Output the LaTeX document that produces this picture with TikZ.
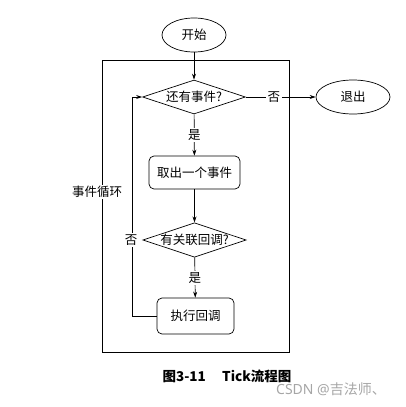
\documentclass[tikz,border=0pt]{standalone}
\usepackage{fontspec}
\newfontfamily\cjk{Noto Sans CJK SC}
\usetikzlibrary{shapes.geometric,arrows.meta}
\begin{document}
\begin{tikzpicture}[x=1pt,y=-1pt,
  every node/.style={font=\cjk\fontsize{12.5}{14}\selectfont, inner sep=0pt},
  ell/.style={draw, ellipse, minimum width=64pt, minimum height=34pt, line width=0.7pt},
  dia/.style={draw, diamond, aspect=3, minimum width=103pt, minimum height=34pt, line width=0.7pt},
  box/.style={draw, rounded corners=5pt, line width=0.7pt},
  lbl/.style={fill=white, inner sep=1.5pt},
  conn/.style={line width=0.7pt, -{Stealth[length=6pt,width=4pt]}},
  line/.style={line width=0.7pt}]
\useasboundingbox (0,0) rectangle (406,407);
\draw[line] (102,60) rectangle (289,352);
\node[ell] (start) at (194,35) {开始};
\node[dia] (d1) at (194,97) {还有事件?};
\node[ell, minimum width=74pt] (exit) at (353,97) {退出};
\node[box, minimum width=91pt, minimum height=33pt] (take) at (194.5,172.5) {取出一个事件};
\node[dia] (d2) at (194.5,240) {有关联回调?};
\node[box, minimum width=77pt, minimum height=36pt] (run) at (195.5,316) {执行回调};
\coordinate (c1) at (132,316);
\coordinate (c2) at (132,97);
\draw[conn] (start) -- (d1);
\draw[conn] (d1) -- node[lbl, pos=0.4] {否} (exit);
\draw[conn] (d1) -- node[lbl, pos=0.5] {是} (take);
\draw[conn] (take) -- (d2);
\draw[conn] (d2) -- node[lbl, pos=0.5] {是} (run);
\draw[conn] (run.west) -- (c1) -- (c2) -- (d1.west);
\node[lbl] (no2) at (131,240) {否};
\node[lbl] (loop) at (97,192) {事件循环};
\node[font=\cjk\bfseries\fontsize{13.5}{15}\selectfont] (cap) at (227,376) {图3-11\hspace{1.2em}Tick流程图};
\node[font=\fontspec{Noto Sans}\fontsize{14}{16}\selectfont, text=black!35] (wm) at (331,389) {CSDN @{\cjk 吉法师、}};
\end{tikzpicture}
\end{document}
